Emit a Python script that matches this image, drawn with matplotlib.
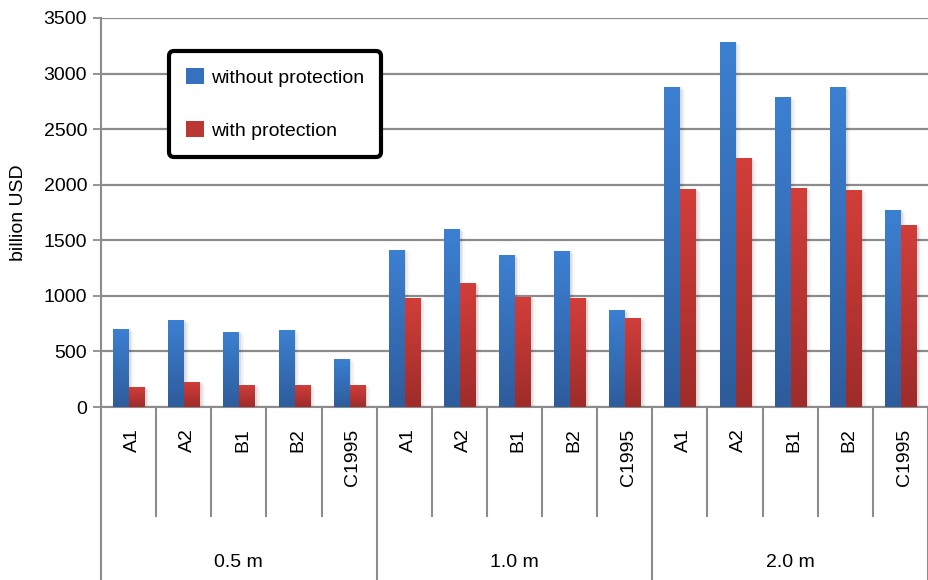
import matplotlib.pyplot as plt
import matplotlib.transforms as mtrans
from matplotlib.patches import Patch
import numpy as np

plt.rcParams['font.family'] = ['Liberation Sans', 'DejaVu Sans']

#### data
groups = ["0.5 m", "1.0 m", "2.0 m"]
scenarios = ["A1", "A2", "B1", "B2", "C1995"]
without_prot = [702, 783, 675, 693, 432,
                1413, 1602, 1368, 1404, 873,
                2880, 3285, 2790, 2880, 1773]
with_prot = [180, 225, 198, 198, 198,
             981, 1116, 990, 981, 801,
             1962, 2241, 1971, 1953, 1638]

n = len(without_prot)
x = np.arange(n)

fig = plt.figure(figsize=(9.29, 5.8), dpi=100)
ax = fig.add_axes([101/929, 1-407/580, 827/929, 389/580])

grid_c = "#8c8c8c"
fs = 14

# gradient fill for the bars
def gradient_bars(bars, top, bottom):
    grad = np.linspace(0, 1, 128).reshape(-1, 1)
    cmap = plt.matplotlib.colors.LinearSegmentedColormap.from_list("g", [bottom, top])
    for b in bars:
        x0, y0 = b.get_x(), b.get_y()
        w, h = b.get_width(), b.get_height()
        # soft shadow
        for k, a in enumerate([0.07, 0.045, 0.025]):
            ax.bar(x0 + w, h - 15 * k, width=0.03 + 0.03 * k, bottom=y0, align='edge',
                   color="#000000", alpha=a, zorder=2, linewidth=0)
        im = ax.imshow(grad, extent=[x0, x0 + w, y0, y0 + h], origin='lower',
                       aspect='auto', cmap=cmap, zorder=3)
        im.set_clip_path(b)
        b.set_facecolor("none")

bw = 0.29
b1 = ax.bar(x + 0.51 - bw, without_prot, width=bw, align='edge', zorder=3,
            linewidth=0)
b2 = ax.bar(x + 0.51, with_prot, width=bw, align='edge', zorder=3,
            linewidth=0)
gradient_bars(b1, "#3c80d2", "#2e5c9c")
gradient_bars(b2, "#d23e3a", "#9e2c2a")

ax.set_xlim(0, n)
ax.set_ylim(0, 3500)
ax.set_yticks(np.arange(0, 3501, 500))
ax.yaxis.grid(True, color=grid_c, linewidth=1.6, zorder=0)
ax.set_axisbelow(True)
ax.set_xticks([])
ax.tick_params(axis='y', length=6, width=1.3, color=grid_c, labelsize=fs, pad=4)
for s in ["top", "right"]:
    ax.spines[s].set_visible(False)
for s in ["left", "bottom"]:
    ax.spines[s].set_color(grid_c)
    ax.spines[s].set_linewidth(1.5)
ax.set_ylabel("billion USD", fontsize=fs, labelpad=12)

# multi-level category axis
tr = mtrans.blended_transform_factory(ax.transData, ax.transAxes)
for i in range(n + 1):
    low = -0.445 if i % len(scenarios) == 0 else -0.28
    ax.plot([i, i], [0, low], transform=tr, color=grid_c, linewidth=1.5,
            clip_on=False, zorder=1)
for i in range(n):
    ax.text(i + 0.57, -0.055, scenarios[i % len(scenarios)], transform=tr,
            rotation=90, ha='center', va='top', fontsize=fs)
for g, name in enumerate(groups):
    ax.text(g * len(scenarios) + len(scenarios) / 2, -0.40, name, transform=tr,
            ha='center', va='center', fontsize=fs)

handles = [Patch(facecolor="#3671bd", label="without protection"),
           Patch(facecolor="#bb3734", label="with protection")]
leg = ax.legend(handles=handles, loc='upper left', bbox_to_anchor=(0.082, 0.916),
                fontsize=fs, frameon=True, fancybox=True, borderpad=0.9,
                labelspacing=1.75, handlelength=0.9, handleheight=0.9,
                handletextpad=0.35, borderaxespad=0)
leg.get_frame().set_edgecolor("black")
leg.get_frame().set_linewidth(3)
leg.get_frame().set_boxstyle("round,pad=0,rounding_size=0.25")
leg.get_frame().set_alpha(1)

plt.savefig("out.png", dpi=100)
